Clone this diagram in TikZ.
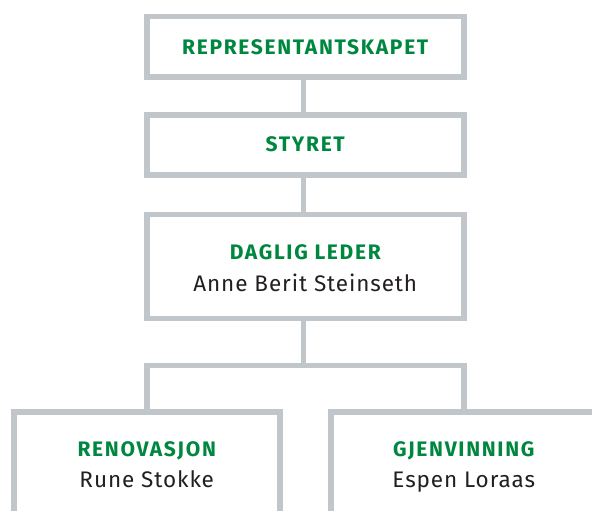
\documentclass[tikz,border=0pt]{standalone}
\usepackage{fontspec}
\setmainfont{Fira Sans}
\newfontfamily\orgtitlefont[LetterSpace=8]{Fira Sans}
\newfontfamily\orgnamefont[LetterSpace=4]{Fira Sans}
\usetikzlibrary{calc}
\definecolor{boxgray}{HTML}{C0C6C9}
\definecolor{orggreen}{HTML}{00873F}
\definecolor{orgtext}{HTML}{231F20}
\tikzset{
  orgbox/.style={draw=boxgray, line width=5.5pt, fill=white, inner sep=0pt, line join=miter},
  orgline/.style={draw=boxgray, line width=5.5pt, line join=miter},
  titletext/.style={text=orggreen, anchor=base, inner sep=0pt, font=\orgtitlefont\fontsize{21}{25}\selectfont\bfseries},
  nametext/.style={text=orgtext, anchor=base, inner sep=0pt, font=\orgnamefont\fontsize{22.5}{27}\selectfont},
}
\begin{document}
\begin{tikzpicture}[x=1pt,y=-1pt]
\useasboundingbox (0,0) rectangle (592,511);
\clip (0,0) rectangle (592,511);
\node[orgbox, minimum width=317pt, minimum height=60.5pt] (b1) at (305.25,47) {};
\node[titletext] (t1) at (305.25,54.5) {REPRESENTANTSKAPET};
\node[orgbox, minimum width=317pt, minimum height=60pt] (b2) at (305.25,144.75) {};
\node[titletext] (t2) at (305.25,151.7) {STYRET};
\node[orgbox, minimum width=317pt, minimum height=104pt] (b3) at (305.25,266.5) {};
\node[titletext] (t3) at (305.25,259) {DAGLIG LEDER};
\node[nametext] (n3) at (305.25,291) {Anne Berit Steinseth};
\node[orgbox, minimum width=266pt, minimum height=140pt] (b4) at (146.75,481.75) {};
\node[titletext] (t4) at (146.75,456) {RENOVASJON};
\node[nametext] (n4) at (146.75,487.5) {Rune Stokke};
\node[orgbox, minimum width=266pt, minimum height=140pt] (b5) at (463.75,481.75) {};
\node[titletext] (t5) at (463.75,456) {GJENVINNING};
\node[nametext] (n5) at (463.75,487.5) {Espen Loraas};
\coordinate (bar) at (303.5,365.5);
\draw[orgline] ([xshift=-1.75pt]b1.south) -- ([xshift=-1.75pt]b2.north);
\draw[orgline] ([xshift=-1.75pt]b2.south) -- ([xshift=-1.75pt]b3.north);
\draw[orgline] ([xshift=-1.75pt]b3.south) -- (bar);
\draw[orgline] (b4.north) -- (b4.north |- bar) -- (b5.north |- bar) -- (b5.north);
\end{tikzpicture}
\end{document}
